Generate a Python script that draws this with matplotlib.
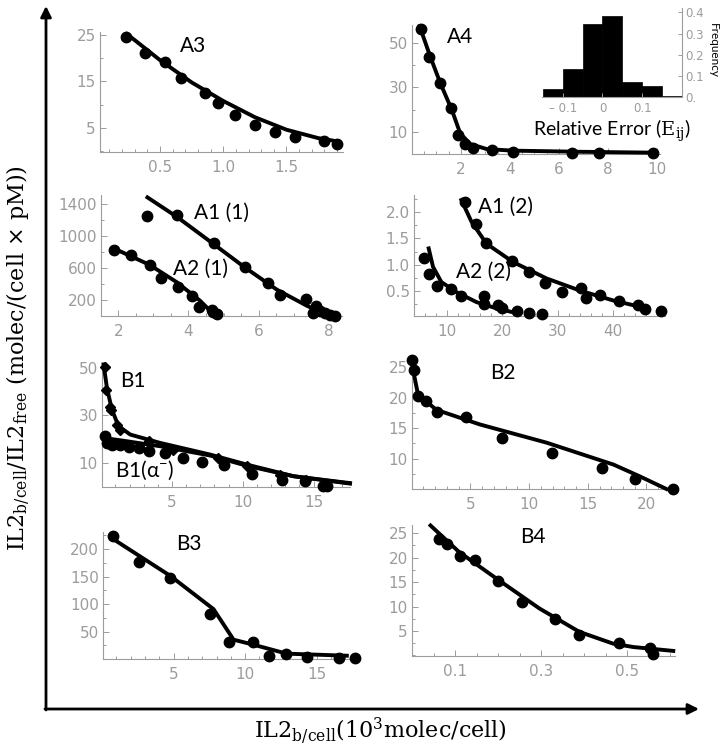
import matplotlib
matplotlib.use("Agg")
import matplotlib.pyplot as plt
from matplotlib.ticker import AutoMinorLocator, FixedLocator, FormatStrFormatter

W, H = 721, 750
GRAY = "#9c9c9c"

# ---- data ----
a3_x = [0.23, 0.38, 0.54, 0.67, 0.86, 0.96, 1.09, 1.25, 1.41, 1.57, 1.80, 1.90]
a3_y = [24.6, 21.2, 19.1, 15.7, 12.5, 10.4, 7.8, 5.7, 4.2, 3.1, 2.1, 1.6]
a3_fit_x = [0.24, 0.5, 0.75, 1.0, 1.25, 1.5, 1.75, 1.9]
a3_fit_y = [25.2, 19.6, 14.8, 10.8, 7.3, 4.6, 2.8, 2.1]

a4_x = [0.37, 0.71, 1.13, 1.59, 1.88, 2.18, 2.49, 3.27, 4.11, 6.53, 7.63, 9.86]
a4_y = [56.0, 43.7, 31.8, 20.8, 8.7, 4.5, 2.7, 1.6, 1.0, 0.5, 0.3, 0.3]
a4_fit_x = [0.31, 0.75, 1.16, 1.63, 1.97, 2.38, 3.06, 4.15, 6.87, 9.86]
a4_fit_y = [57.5, 43.7, 31.8, 19.8, 9.3, 4.5, 2.2, 1.5, 1.0, 0.6]

err_edges = [-0.15, -0.1, -0.05, 0.0, 0.05, 0.1, 0.15, 0.2]
err_freq = [0.040, 0.135, 0.344, 0.381, 0.070, 0.054, 0.008]

a1_1_x = [2.81, 3.67, 4.74, 5.60, 6.26, 6.61, 7.35, 7.55, 7.65, 7.76, 7.90, 8.05, 8.19]
a1_1_y = [1253, 1265, 920, 612, 415, 263, 213, 32, 129, 65, 32, 15, 6]
a1_1_fit_x = [2.83, 3.67, 4.74, 5.60, 6.52, 7.38, 7.86, 8.29]
a1_1_fit_y = [1488, 1244, 895, 612, 331, 128, 32, 2]
a2_1_x = [1.89, 2.36, 2.89, 3.21, 3.69, 4.10, 4.31, 4.67, 4.71, 4.81]
a2_1_y = [832, 760, 642, 478, 360, 255, 116, 74, 44, 23]
a2_1_fit_x = [1.89, 2.89, 3.67, 4.33, 4.62, 4.81]
a2_1_fit_y = [844, 642, 423, 192, 65, 2]

a1_2_x = [13.25, 15.24, 17.17, 21.8, 24.9, 27.8, 30.9, 34.3, 35.2, 37.7, 41.1, 44.5, 45.8, 48.6]
a1_2_y = [2.2, 1.77, 1.42, 1.07, 0.86, 0.66, 0.48, 0.55, 0.37, 0.43, 0.31, 0.24, 0.15, 0.12]
a1_2_fit_x = [12.65, 14.46, 17.17, 22.0, 28.0, 34.0, 40.06, 46.1]
a1_2_fit_y = [2.23, 1.82, 1.40, 1.05, 0.74, 0.51, 0.32, 0.17]
a2_2_x = [5.9, 6.8, 8.31, 10.72, 12.65, 16.75, 16.75, 19.28, 20.06, 22.6, 24.9, 27.2]
a2_2_y = [1.12, 0.82, 0.60, 0.53, 0.41, 0.40, 0.25, 0.23, 0.17, 0.12, 0.09, 0.06]
a2_2_fit_x = [6.75, 7.53, 9.04, 11.75, 15.36, 18.98, 22.6]
a2_2_fit_y = [1.31, 0.96, 0.67, 0.48, 0.29, 0.17, 0.08]

b1_x = [0.24, 0.35, 0.59, 0.68, 1.10, 1.34, 3.34, 5.10, 8.28, 10.28, 12.6, 14.47]
b1_y = [50.2, 40.8, 33.5, 32.4, 26.1, 24.0, 19.1, 15.6, 12.1, 8.6, 4.8, 2.7]
b1_fit_x = [0.16, 0.40, 0.75, 1.22, 2.05, 4.16, 7.69, 10.28, 13.58, 17.58]
b1_fit_y = [51.4, 41.5, 32.4, 25.4, 21.9, 18.4, 13.5, 9.3, 4.4, 1.3]
b1a_x = [0.24, 0.40, 0.75, 1.34, 1.93, 2.64, 3.34, 4.52, 5.81, 7.10, 8.64, 10.64, 12.75, 14.4, 15.7, 15.93]
b1a_y = [21.5, 18.4, 17.7, 17.7, 16.7, 16.3, 14.9, 14.2, 12.1, 10.4, 9.3, 5.3, 2.9, 2.2, 0.1, 0.4]
b1a_fit_x = [0.16, 1.8, 4.16, 7.69, 10.28, 13.58, 17.58]
b1a_fit_y = [20.5, 19.1, 17.0, 13.1, 8.8, 4.4, 1.5]

b2_x = [0.03, 0.20, 0.54, 1.25, 2.19, 4.60, 7.73, 11.99, 16.2, 19.0, 22.3]
b2_y = [26.1, 24.5, 20.2, 19.4, 17.7, 16.8, 13.4, 10.9, 8.4, 6.6, 5.0]
b2_fit_x = [0.11, 0.54, 2.1, 5.8, 11.5, 17.2, 19.4, 21.7]
b2_fit_y = [24.7, 20.5, 18.0, 15.6, 12.6, 9.0, 7.1, 5.0]

b3_x = [0.77, 2.56, 4.72, 7.56, 8.84, 10.58, 11.63, 12.84, 14.3, 16.58, 17.67]
b3_y = [223.7, 177.1, 146.9, 81.6, 30.2, 30.8, 4.8, 9.1, 3.0, 1.8, 1.8]
b3_fit_x = [0.81, 4.77, 7.79, 9.19, 10.58, 12.9, 17.1]
b3_fit_y = [217.7, 151.2, 90.7, 35.1, 26.0, 9.7, 6.0]

b4_x = [0.063, 0.082, 0.112, 0.146, 0.200, 0.256, 0.333, 0.387, 0.480, 0.554, 0.559]
b4_y = [23.8, 22.9, 20.4, 19.5, 15.2, 11.0, 7.5, 4.2, 2.6, 1.5, 0.2]
b4_fit_x = [0.043, 0.109, 0.195, 0.296, 0.389, 0.467, 0.514, 0.607]
b4_fit_y = [26.6, 21.2, 15.8, 9.6, 4.8, 2.4, 1.7, 0.9]

plt.rcParams['mathtext.fontset'] = 'dejavuserif'
fig = plt.figure(figsize=(W / 100, H / 100), dpi=100)
LABEL_FONT = 'Lato'


def panel(left, right, bottom, top, xlim, ylim, xticks, yticks, xfmt=None, yfmt=None, nx=5, ny=2):
    ax = fig.add_axes([left / W, 1 - bottom / H, (right - left) / W, (bottom - top) / H])
    ax.set_xlim(*xlim)
    ax.set_ylim(*ylim)
    ax.patch.set_alpha(0)
    for s in ('top', 'right'):
        ax.spines[s].set_visible(False)
    for s in ('left', 'bottom'):
        ax.spines[s].set_color(GRAY)
        ax.spines[s].set_linewidth(0.8)
    ax.xaxis.set_major_locator(FixedLocator(xticks))
    ax.yaxis.set_major_locator(FixedLocator(yticks))
    ax.xaxis.set_minor_locator(AutoMinorLocator(nx))
    ax.yaxis.set_minor_locator(AutoMinorLocator(ny))
    if xfmt:
        ax.xaxis.set_major_formatter(FormatStrFormatter(xfmt))
    if yfmt:
        ax.yaxis.set_major_formatter(FormatStrFormatter(yfmt))
    ax.tick_params(which='both', direction='in', color=GRAY, labelcolor=GRAY,
                   labelsize=11, width=0.7)
    ax.tick_params(which='major', length=4)
    ax.tick_params(which='minor', length=2)
    ax.tick_params(axis='x', pad=6)
    ax.tick_params(axis='y', pad=3)
    return ax


def draw(ax, x, y, fx, fy, marker='o', ms=7.5):
    ax.plot(fx, fy, color='black', lw=2.8, clip_on=False, zorder=3)
    ax.plot(x, y, marker, color='black', ms=ms, clip_on=False, zorder=4)


def tag(ax, x, y, s):
    ax.text(x, y, s, fontsize=15, family=LABEL_FONT, ha='center', va='center', zorder=5)


# A3
ax = panel(100, 343, 152, 32, (0.026, 1.947), (-0.2, 25.65), [0.5, 1.0, 1.5], [5, 15, 25], '%.1f')
draw(ax, a3_x, a3_y, a3_fit_x, a3_fit_y)
tag(ax, 0.76, 22.6, 'A3')

# A4
ax = panel(412, 660, 154, 25, (0, 10.14), (0, 58), [2, 4, 6, 8, 10], [10, 30, 50], nx=4)
draw(ax, a4_x, a4_y, a4_fit_x, a4_fit_y)
tag(ax, 1.95, 52.5, 'A4')

# inset histogram
ax = fig.add_axes([542 / W, 1 - 97.3 / H, (682 - 542) / W, (97.3 - 8) / H])
ax.bar(err_edges[:-1], err_freq, width=0.05, align='edge', color='black', edgecolor='black', lw=0.5)
ax.set_xlim(-0.152, 0.2)
ax.set_ylim(0, 0.42)
ax.patch.set_alpha(0)
for s in ('top', 'left'):
    ax.spines[s].set_visible(False)
for s in ('right', 'bottom'):
    ax.spines[s].set_color(GRAY)
    ax.spines[s].set_linewidth(0.8)
ax.yaxis.tick_right()
ax.set_yticks([0, 0.1, 0.2, 0.3, 0.4])
ax.set_yticklabels(['0.', '0.1', '0.2', '0.3', '0.4'])
ax.set_xticks([-0.1, 0, 0.1])
ax.set_xticklabels(['\u2013 0.1', '0', '0.1'])
ax.tick_params(direction='in', color=GRAY, labelcolor=GRAY, labelsize=8.5, length=3, width=0.7)
ax.tick_params(axis='y', pad=2)
ax.set_xlabel(r'Relative Error ($\mathrm{E_{ij}}$)', family=LABEL_FONT, fontsize=14, labelpad=2)
fig.text(713 / W, 1 - 50 / H, 'Frequency', rotation=270, ha='center', va='center',
         fontsize=8.5, family=LABEL_FONT)

# A1(1), A2(1)
ax = panel(101, 342, 316, 195, (1.505, 8.38), (0, 1518), [2, 4, 6, 8], [200, 600, 1000, 1400], nx=4)
draw(ax, a1_1_x, a1_1_y, a1_1_fit_x, a1_1_fit_y)
draw(ax, a2_1_x, a2_1_y, a2_1_fit_x, a2_1_fit_y)
tag(ax, 4.95, 1290, 'A1 (1)')
tag(ax, 4.33, 590, 'A2 (1)')

# A1(2), A2(2)
ax = panel(414, 665, 316, 195, (4.1, 49.4), (0.025, 2.325), [10, 20, 30, 40], [0.5, 1.0, 1.5, 2.0], yfmt='%.1f')
draw(ax, a1_2_x, a1_2_y, a1_2_fit_x, a1_2_fit_y)
draw(ax, a2_2_x, a2_2_y, a2_2_fit_x, a2_2_fit_y)
tag(ax, 20.6, 2.1, 'A1 (2)')
tag(ax, 16.6, 0.86, 'A2 (2)')

# B1
ax = panel(102, 350, 487, 363, (0.05, 17.58), (-0.14, 52), [5, 10, 15], [10, 30, 50])
draw(ax, b1a_x, b1a_y, b1a_fit_x, b1a_fit_y)
draw(ax, b1_x, b1_y, b1_fit_x, b1_fit_y, marker='D', ms=5.5)
tag(ax, 2.2, 44.4, 'B1')
tag(ax, 3.1, 7.0, r'B1($\mathregular{\alpha^{-}}$)')

# B2
ax = panel(412, 677, 489, 358, (0.03, 22.6), (5.0, 26.5), [5, 10, 15, 20], [10, 15, 20, 25])
draw(ax, b2_x, b2_y, b2_fit_x, b2_fit_y)
tag(ax, 7.8, 24.0, 'B2')

# B3
ax = panel(103, 355, 659, 532, (0.07, 17.67), (0, 231), [5, 10, 15], [50, 100, 150, 200])
draw(ax, b3_x, b3_y, b3_fit_x, b3_fit_y)
tag(ax, 6.05, 210, 'B3')

# B4
ax = panel(412, 675, 656, 525, (0, 0.611), (-0.14, 26.7), [0.1, 0.3, 0.5], [5, 10, 15, 20, 25], '%.1f', nx=4)
draw(ax, b4_x, b4_y, b4_fit_x, b4_fit_y)
tag(ax, 0.28, 24.3, 'B4')

# big axes arrows and labels
ov = fig.add_axes([0, 0, 1, 1], zorder=-1)
ov.set_xlim(0, W)
ov.set_ylim(H, 0)
ov.axis('off')
ov.annotate('', xy=(46, 6), xytext=(46, 710),
            arrowprops=dict(arrowstyle='-|>', lw=2, color='black', mutation_scale=16, shrinkA=0, shrinkB=0))
ov.annotate('', xy=(699, 709), xytext=(45, 709),
            arrowprops=dict(arrowstyle='-|>', lw=2, color='black', mutation_scale=16, shrinkA=0, shrinkB=0))

fig.text(18 / W, 1 - 358 / H,
         r'$\mathrm{IL2_{b/cell}/IL2_{free}}$ (molec/(cell $\times$ pM))',
         rotation=90, ha='center', va='center', fontsize=16, family='DejaVu Serif')
fig.text(380 / W, 1 - 731 / H, r'$\mathrm{IL2_{b/cell}}$(10$^{3}$molec/cell)',
         ha='center', va='center', fontsize=16, family='DejaVu Serif')

fig.savefig('out.png', dpi=100)
